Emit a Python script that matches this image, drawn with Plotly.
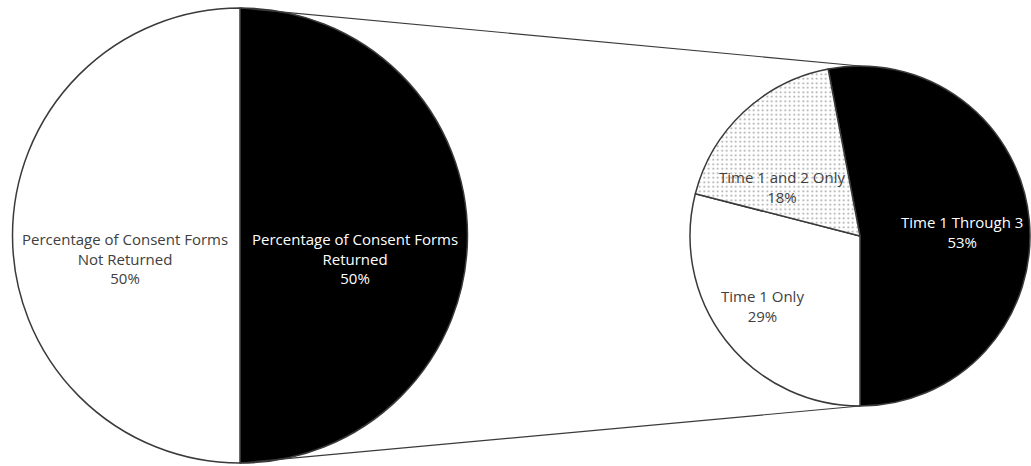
import plotly.graph_objects as go

# ---- data ----
main_labels = ["Percentage of Consent Forms Returned", "Percentage of Consent Forms Not Returned"]
main_label_lines = [["Percentage of Consent Forms", "Returned"], ["Percentage of Consent Forms", "Not Returned"]]
main_values = [50, 50]

sub_labels = ["Time 1 Through 3", "Time 1 Only", "Time 1 and 2 Only"]
sub_values = [53, 29, 18]

# ---- layout geometry (pixels) ----
W, H = 1031, 466
L_cx, L_cy, L_r = 240, 235.5, 227.5
R_cx, R_cy, R_r = 860, 236, 170

def px(x):
    return x / W

def py(y):
    return 1 - y / H

def domain(cx, cy, r):
    return dict(x=[px(cx - r), px(cx + r)], y=[py(cy + r), py(cy - r)])

line_col = "#3a3a3a"
fig = go.Figure()

fig.add_trace(go.Pie(
    labels=main_labels, values=main_values, sort=False,
    direction="clockwise", rotation=0,
    domain=domain(L_cx, L_cy, L_r),
    marker=dict(colors=["#000000", "#ffffff"], line=dict(color=line_col, width=1.5)),
    textinfo="none", hoverinfo="label+percent", showlegend=False,
))

# first (black) slice ends at 6 o'clock going clockwise
total_sub = sum(sub_values)
sub_rotation = 180 - 360 * sub_values[0] / total_sub

fig.add_trace(go.Pie(
    labels=sub_labels, values=sub_values, sort=False,
    direction="clockwise", rotation=sub_rotation,
    domain=domain(R_cx, R_cy, R_r),
    marker=dict(
        colors=["#000000", "#ffffff", "#ffffff"],
        line=dict(color=line_col, width=1.5),
        pattern=dict(shape=["", "", "."], fgcolor="#a0a0a0", bgcolor="#ffffff",
                     size=4.5, solidity=0.15),
    ),
    textinfo="none", hoverinfo="label+percent", showlegend=False,
))

# connector lines between the pies (top to top, bottom to bottom)
for sgn in (-1, 1):
    fig.add_shape(type="line", xref="paper", yref="paper",
                  x0=px(L_cx), y0=py(L_cy + sgn * L_r),
                  x1=px(R_cx), y1=py(R_cy + sgn * R_r),
                  line=dict(color=line_col, width=1.2))

font_family = "Open Sans, Lato, sans-serif"
fs = 15

def add_label(x, y, text, color):
    fig.add_annotation(x=px(x), y=py(y), xref="paper", yref="paper",
                       xanchor="center", yanchor="middle",
                       text=text, showarrow=False, align="center",
                       font=dict(family=font_family, size=fs, color=color))

total_main = sum(main_values)
main_pos = [(355, 258), (125, 258)]
main_cols = ["#ffffff", "#404040"]
for lines, v, (x, y), c in zip(main_label_lines, main_values, main_pos, main_cols):
    add_label(x, y, "<br>".join(lines + [f"{round(100 * v / total_main)}%"]), c)

sub_pos = [(962, 232), (762, 306), (782, 187)]
sub_cols = ["#ffffff", "#404040", "#404040"]
for lab, v, (x, y), c in zip(sub_labels, sub_values, sub_pos, sub_cols):
    add_label(x, y, f"{lab}<br>{round(100 * v / total_sub)}%", c)

fig.update_layout(
    width=W, height=H,
    margin=dict(l=0, r=0, t=0, b=0),
    paper_bgcolor="#ffffff", plot_bgcolor="#ffffff",
)

fig.write_html("out.html", config={"displayModeBar": False},
               post_script="document.body.style.margin='0px';")
